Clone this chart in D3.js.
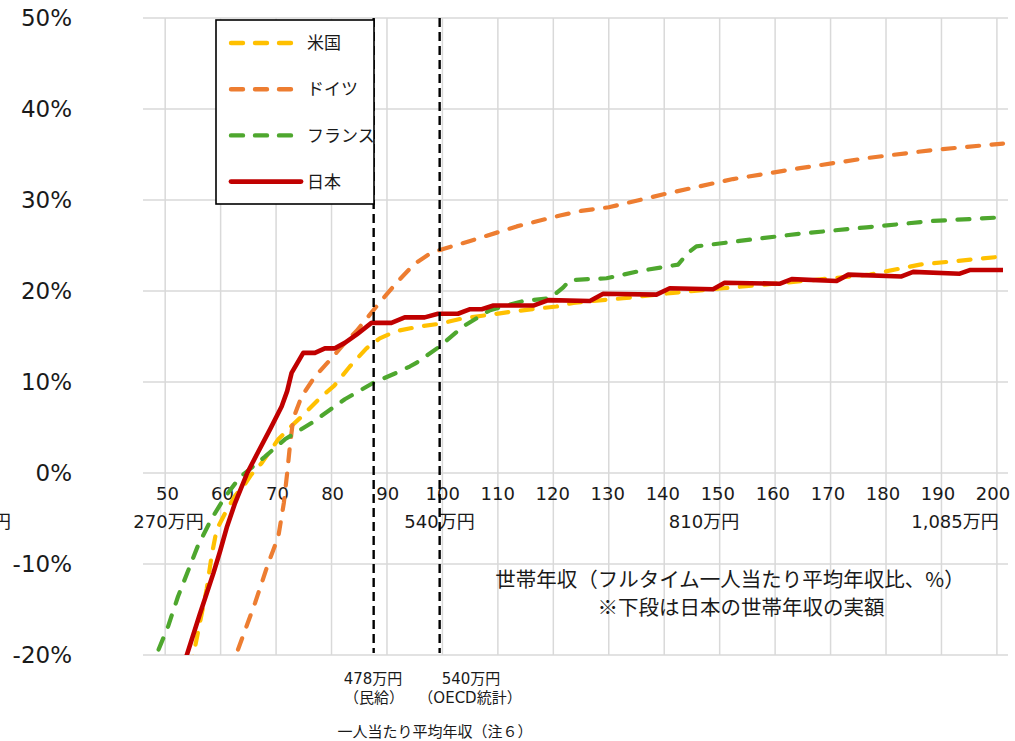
<!DOCTYPE html>
<html>
<head>
<meta charset="utf-8">
<script src="https://cdn.jsdelivr.net/npm/d3@7/dist/d3.min.js"></script>
<style>
  html, body { margin: 0; padding: 0; background: #fff; }
  svg { display: block; }
  text { font-family: "DejaVu Sans", "Noto Sans CJK JP", sans-serif; fill: #1a1a1a; }
  .jp { font-family: "Noto Sans CJK JP", "DejaVu Sans", sans-serif; }
</style>
</head>
<body>
<svg id="chart" width="1015" height="741"></svg>
<script>
// Household income relative to average full-time income (x, %) vs. rate (y, %)
const xTicks = [50, 60, 70, 80, 90, 100, 110, 120, 130, 140, 150, 160, 170, 180, 190, 200];
const yTicks = [50, 40, 30, 20, 10, 0, -10, -20];
const yenLabels = [
  { at: 50, text: "270万円" },
  { at: 100, text: "540万円" },
  { at: 150, text: "810万円" },
  { at: 200, text: "1,085万円" }
];
const refLines = [87.6, 99.5];   // 478万円 (民給), 540万円 (OECD統計)

const seriesNames = ["米国", "ドイツ", "フランス", "日本"];
const seriesColors = ["#FFC000", "#ED7D31", "#4EA72E", "#C00000"];

const usX = [54.6, 57.5, 58.4, 59.3, 61.0, 62.6, 64.4, 65.5, 67.4, 70.4, 72.5, 74.6, 78.2, 80.5, 83.3, 86.3, 88.7, 91.7, 95.9, 99.5, 103.7, 108.6, 113.4, 117.6, 120.6, 123.6, 132.6, 141.6, 150.6, 158.0, 165.1, 177.1, 186.1, 201.1];
const usY = [-21.5, -12.7, -9.0, -6.2, -4.2, -2.5, -1.2, -0.2, 1.1, 3.7, 5.0, 6.2, 8.4, 9.6, 11.7, 13.7, 14.8, 15.6, 16.1, 16.4, 17.0, 17.4, 17.8, 18.1, 18.3, 18.7, 19.2, 19.8, 20.3, 20.7, 21.1, 21.8, 22.9, 23.8];

const deX = [62.0, 62.6, 66.2, 68.6, 70.4, 71.4, 72.0, 72.5, 73.1, 74.6, 77.0, 80.0, 82.4, 84.5, 88.1, 91.7, 95.0, 98.0, 100.0, 105.0, 113.4, 121.2, 125.0, 130.0, 140.4, 152.4, 164.5, 176.5, 188.5, 201.1];
const deY = [-22.0, -20.3, -14.3, -9.9, -7.0, -3.3, 0.0, 3.0, 6.0, 8.4, 10.6, 12.6, 14.3, 15.6, 18.3, 20.9, 23.0, 24.2, 24.6, 25.5, 27.1, 28.3, 28.8, 29.2, 30.7, 32.3, 33.5, 34.6, 35.5, 36.2];

const frX = [47.8, 48.4, 50.5, 52.3, 54.1, 55.9, 58.3, 60.7, 63.3, 64.4, 68.0, 71.6, 76.4, 82.4, 87.5, 91.7, 94.1, 95.3, 99.5, 103.7, 108.6, 114.6, 119.4, 121.8, 123.0, 129.6, 135.6, 142.5, 144.3, 145.8, 153.6, 164.5, 176.5, 188.5, 201.1];
const frY = [-22.0, -20.0, -16.9, -13.6, -10.8, -8.0, -5.1, -2.7, -0.6, 0.0, 1.8, 3.7, 5.5, 8.1, 9.9, 11.0, 11.7, 12.1, 13.9, 16.1, 17.9, 18.9, 19.2, 20.4, 21.2, 21.4, 22.2, 22.9, 24.2, 24.9, 25.5, 26.3, 27.0, 27.7, 28.1];

const jpX = [52.8, 53.8, 56.2, 58.7, 59.9, 61.1, 62.6, 64.8, 66.5, 69.0, 71.0, 72.0, 72.8, 74.9, 77.0, 78.8, 80.6, 82.4, 84.5, 87.2, 90.8, 93.2, 96.8, 99.2, 102.8, 105.0, 107.1, 109.2, 116.4, 119.1, 126.6, 129.0, 138.6, 141.0, 148.8, 150.9, 160.9, 163.0, 171.1, 173.2, 182.8, 184.9, 193.3, 195.1, 201.1];
const jpY = [-22.0, -20.2, -15.6, -11.0, -8.6, -6.0, -3.3, 0.0, 2.0, 4.9, 7.3, 9.0, 11.0, 13.2, 13.2, 13.7, 13.7, 14.3, 15.2, 16.5, 16.5, 17.1, 17.1, 17.5, 17.5, 18.0, 18.0, 18.4, 18.4, 19.0, 18.9, 19.7, 19.6, 20.3, 20.2, 20.9, 20.8, 21.3, 21.1, 21.8, 21.6, 22.1, 21.9, 22.3, 22.3];

const series = [
  { name: seriesNames[0], color: seriesColors[0], xs: usX, ys: usY, dashed: true },
  { name: seriesNames[1], color: seriesColors[1], xs: deX, ys: deY, dashed: true },
  { name: seriesNames[2], color: seriesColors[2], xs: frX, ys: frY, dashed: true },
  { name: seriesNames[3], color: seriesColors[3], xs: jpX, ys: jpY, dashed: false }
];

const svg = d3.select("#chart");
const plot = { left: 143, right: 1008, top: 18, bottom: 655 };

const x = d3.scaleLinear().domain([46, 202]).range([plot.left, plot.right]);
const y = d3.scaleLinear().domain([-20, 50]).range([plot.bottom, plot.top]);
// tick labels sit on a slightly tighter spacing than the gridlines
const xLabel = d3.scaleLinear().domain([50, 190]).range([167.5, 938]);

svg.append("defs").append("clipPath").attr("id", "plotClip")
  .append("rect")
  .attr("x", plot.left).attr("y", plot.top)
  .attr("width", plot.right - plot.left).attr("height", plot.bottom - plot.top);

// gridlines
const grid = svg.append("g").attr("stroke", "#d9d9d9").attr("stroke-width", 1.5);
grid.selectAll("line.h").data(yTicks).join("line").attr("class", "h")
  .attr("x1", plot.left).attr("x2", plot.right)
  .attr("y1", d => y(d)).attr("y2", d => y(d));
grid.selectAll("line.v").data(xTicks).join("line").attr("class", "v")
  .attr("x1", d => x(d)).attr("x2", d => x(d))
  .attr("y1", plot.top).attr("y2", plot.bottom);

// y axis labels
svg.append("g").selectAll("text").data(yTicks).join("text")
  .attr("x", 72).attr("y", d => y(d)).attr("dy", "0.36em")
  .attr("text-anchor", "end").attr("font-size", 23)
  .text(d => d + "%");

// x axis labels along the zero line
svg.append("g").selectAll("text").data(xTicks).join("text")
  .attr("x", d => xLabel(d)).attr("y", y(0) + 27)
  .attr("text-anchor", "middle").attr("font-size", 18)
  .text(d => d);

// actual household income under selected ticks
const yenPos = { 50: 168.5, 100: 439.5, 150: 704, 200: 955 };
svg.append("g").selectAll("text").data(yenLabels).join("text")
  .attr("x", d => yenPos[d.at]).attr("y", y(0) + 55)
  .attr("text-anchor", "middle").attr("font-size", 18)
  .text(d => d.text);
svg.append("text").attr("x", 11).attr("y", y(0) + 55)
  .attr("text-anchor", "end").attr("font-size", 18).text("円");

// series lines
const line = d3.line().x(d => x(d[0])).y(d => y(d[1]));
const lines = svg.append("g").attr("clip-path", "url(#plotClip)");
series.forEach(s => {
  const pts = d3.zip(s.xs, s.ys);
  lines.append("path")
    .attr("d", line(pts))
    .attr("fill", "none")
    .attr("stroke", s.color)
    .attr("stroke-width", s.dashed ? 4.2 : 4.6)
    .attr("stroke-linecap", s.dashed ? "round" : "butt")
    .attr("stroke-linejoin", "round")
    .attr("stroke-dasharray", s.dashed ? "12,12.5" : null);
});

// reference income lines
svg.append("g").selectAll("line").data(refLines).join("line")
  .attr("x1", d => x(d)).attr("x2", d => x(d))
  .attr("y1", plot.top).attr("y2", plot.bottom - 2)
  .attr("stroke", "#000").attr("stroke-width", 2.4)
  .attr("stroke-dasharray", "9,5");

// legend
const lg = svg.append("g");
lg.append("rect").attr("x", 216).attr("y", 20).attr("width", 158).attr("height", 184)
  .attr("fill", "#fff").attr("stroke", "#000").attr("stroke-width", 1.6);
series.forEach((s, i) => {
  const cy = 43 + i * 46.2;
  lg.append("line")
    .attr("x1", 231).attr("x2", s.dashed ? 294 : 301)
    .attr("y1", cy).attr("y2", cy)
    .attr("stroke", s.color).attr("stroke-width", s.dashed ? 4.4 : 4.8)
    .attr("stroke-linecap", "round")
    .attr("stroke-dasharray", s.dashed ? "12,12" : null);
  lg.append("text").attr("class", "jp")
    .attr("x", 307).attr("y", cy).attr("dy", "0.36em")
    .attr("font-size", 17).text(s.name);
});

// axis description
svg.append("text").attr("class", "jp")
  .attr("x", 730).attr("y", 587).attr("text-anchor", "middle").attr("font-size", 20.5)
  .text("世帯年収（フルタイム一人当たり平均年収比、%）");
svg.append("text").attr("class", "jp")
  .attr("x", 741).attr("y", 615).attr("text-anchor", "middle").attr("font-size", 20.5)
  .text("※下段は日本の世帯年収の実額");

// reference line captions
const caps = svg.append("g").attr("font-size", 15).attr("text-anchor", "middle");
caps.append("text").attr("x", 373).attr("y", 684).text("478万円");
caps.append("text").attr("x", 374).attr("y", 703).text("（民給）");
caps.append("text").attr("x", 471).attr("y", 684).text("540万円");
caps.append("text").attr("x", 470).attr("y", 703).text("（OECD統計）");
caps.append("text").attr("x", 435).attr("y", 737).text("一人当たり平均年収（注６）");
</script>
</body>
</html>
